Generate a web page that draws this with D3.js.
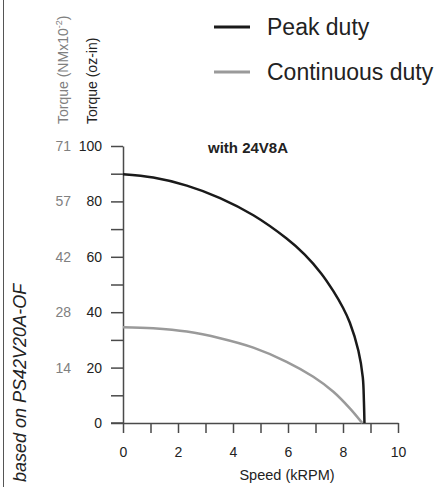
<!DOCTYPE html>
<html>
<head>
<meta charset="utf-8">
<script src="https://cdn.jsdelivr.net/npm/d3@7"></script>
<style>
  html, body { margin: 0; padding: 0; background: #fff; }
  svg { display: block; font-family: "Liberation Sans", Arial, Helvetica, sans-serif; }
</style>
</head>
<body>
<svg id="chart" width="444" height="487"></svg>
<script>
// ---- data ----
const peakSpeed   = [0, 1.1, 2.32, 3.53, 4.74, 5.95, 6.6, 7.2, 7.65, 8.0, 8.25, 8.56, 8.72, 8.76, 8.78];
const peakTorque  = [89.8, 88.6, 85.7, 81.2, 75.0, 66.6, 60.9, 54.1, 47.6, 41.6, 36.2, 26.1, 16.5, 8.0, 0];
const contSpeed   = [0, 1.1, 2.32, 3.53, 4.74, 5.95, 6.92, 7.65, 8.25, 8.7];
const contTorque  = [34.6, 34.2, 33.0, 30.6, 27.2, 22.1, 16.7, 11.3, 5.3, 0];
const xTickLabels = [0, 2, 4, 6, 8, 10];
const yTickOzIn   = [0, 20, 40, 60, 80, 100];
const yTickNm     = ["", "14", "28", "42", "57", "71"];
const seriesNames = ["Peak duty", "Continuous duty"];
const seriesColors = ["#1a1a1a", "#9a9a9a"];

const svg = d3.select("#chart");
const x = d3.scaleLinear().domain([0, 10]).range([123, 398]);
const y = d3.scaleLinear().domain([0, 100]).range([423, 146]);
const axisColor = "#4a4a4a";

// left border
svg.append("line").attr("x1", 3.5).attr("x2", 3.5).attr("y1", 0).attr("y2", 487)
  .attr("stroke", "#555").attr("stroke-width", 1);

// y axis (oz-in) with minor ticks
const yAxis = d3.axisLeft(y).tickValues(d3.range(0, 101, 10)).tickSize(12).tickSizeOuter(0)
  .tickFormat(d => yTickOzIn.includes(d) ? d : "");
const gy = svg.append("g").attr("transform", `translate(${x(0)},0)`).call(yAxis);
gy.select(".domain").attr("stroke", axisColor).attr("stroke-width", 1.5);
gy.selectAll(".tick line").attr("stroke", axisColor).attr("stroke-width", 1.5);
gy.selectAll(".tick text").attr("x", -21).attr("font-size", 14).attr("fill", "#222")
  .attr("font-family", "Liberation Sans, Arial, sans-serif");

// secondary labels (NM x10^-2)
svg.append("g").selectAll("text").data(yTickOzIn).join("text")
  .attr("x", 71).attr("y", d => y(d)).attr("dy", "0.35em")
  .attr("text-anchor", "end").attr("font-size", 14).attr("fill", "#808080")
  .text((d, i) => yTickNm[i]);

// x axis
const xAxis = d3.axisBottom(x).tickValues(d3.range(0, 11, 1)).tickSize(10).tickSizeOuter(0)
  .tickFormat(d => xTickLabels.includes(d) ? d : "");
const gx = svg.append("g").attr("transform", `translate(0,${y(0)})`).call(xAxis);
gx.select(".domain").attr("stroke", axisColor).attr("stroke-width", 1.5);
gx.selectAll(".tick line").attr("stroke", axisColor).attr("stroke-width", 1.5);
gx.selectAll(".tick text").attr("y", 24).attr("font-size", 14).attr("fill", "#222")
  .attr("font-family", "Liberation Sans, Arial, sans-serif");
svg.append("line").attr("x1", x(0) - 12).attr("x2", x(0)).attr("y1", y(0)).attr("y2", y(0))
  .attr("stroke", axisColor).attr("stroke-width", 1.5);

// axis titles
svg.append("text").attr("x", 287).attr("y", 480).attr("text-anchor", "middle")
  .attr("font-size", 14.5).attr("fill", "#222").text("Speed (kRPM)");

svg.append("text").attr("transform", "translate(97,124) rotate(-90)")
  .attr("font-size", 14).attr("fill", "#222").text("Torque (oz-in)");

const nmTitle = svg.append("text").attr("transform", "translate(68,124) rotate(-90)")
  .attr("font-size", 14).attr("fill", "#808080");
nmTitle.append("tspan").text("Torque (NMx10");
nmTitle.append("tspan").attr("dy", -6).attr("font-size", 9).text("-2");
nmTitle.append("tspan").attr("dy", 6).text(")");

// side note
svg.append("text").attr("transform", "translate(26,482) rotate(-90)")
  .attr("font-size", 18).attr("font-style", "italic").attr("fill", "#222")
  .text("based on PS42V20A-OF");

// title
svg.append("text").attr("x", 248).attr("y", 153).attr("text-anchor", "middle")
  .attr("font-size", 15).attr("font-weight", "bold").attr("fill", "#222").text("with 24V8A");

// curves
const line = d3.line().x(d => x(d[0])).y(d => y(d[1])).curve(d3.curveCatmullRom.alpha(0.5));
const series = [
  d3.zip(peakSpeed, peakTorque),
  d3.zip(contSpeed, contTorque)
];
svg.append("path").datum(series[1]).attr("d", line).attr("fill", "none")
  .attr("stroke", seriesColors[1]).attr("stroke-width", 2.5);
svg.append("path").datum(series[0]).attr("d", line).attr("fill", "none")
  .attr("stroke", seriesColors[0]).attr("stroke-width", 2.5);

// legend
const lg = svg.append("g");
seriesNames.forEach((name, i) => {
  const yy = 27 + i * 45;
  lg.append("line").attr("x1", 214).attr("x2", 250).attr("y1", yy).attr("y2", yy)
    .attr("stroke", seriesColors[i]).attr("stroke-width", 3);
  lg.append("text").attr("x", 267).attr("y", yy).attr("dy", "0.36em")
    .attr("font-size", 23).attr("fill", "#222").text(name);
});
</script>
</body>
</html>
